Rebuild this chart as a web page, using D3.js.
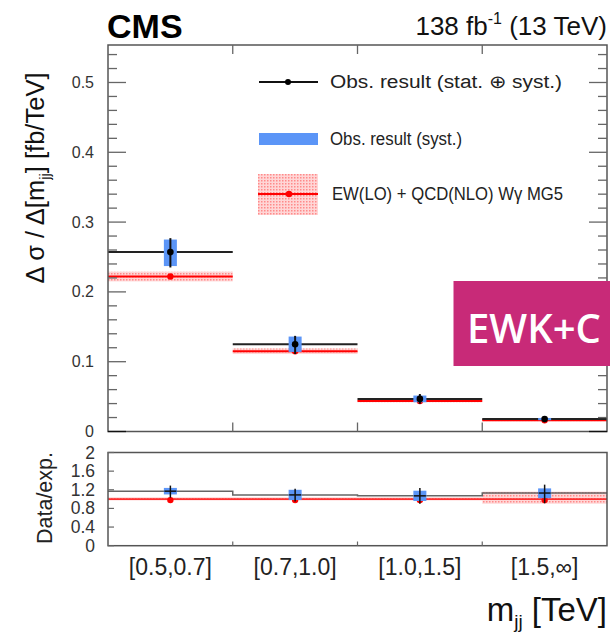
<!DOCTYPE html>
<html><head><meta charset="utf-8">
<script src="https://cdn.jsdelivr.net/npm/d3@7"></script>
<style>body{margin:0;background:#fff;}svg{display:block;}</style>
</head><body>
<script>
// ---- data ----
const bins = ["[0.5,0.7]", "[0.7,1.0]", "[1.0,1.5]", "[1.5,∞]"];
const obs = [0.257, 0.125, 0.0467, 0.0178];
const obsTotLo = [0.235, 0.111, 0.0397, 0.0155];
const obsTotHi = [0.277, 0.137, 0.0537, 0.0201];
const obsSystLo = [0.237, 0.114, 0.0419, 0.0162];
const obsSystHi = [0.275, 0.136, 0.0515, 0.0194];
const pred = [0.222, 0.115, 0.0437, 0.0160];
const predLo = [0.215, 0.111, 0.0420, 0.0147];
const predHi = [0.229, 0.119, 0.0454, 0.0173];
const ratio = [1.17, 1.09, 1.07, 1.13];
const ratioTotLo = [1.03, 0.95, 0.90, 0.91];
const ratioTotHi = [1.29, 1.22, 1.24, 1.31];
const ratioSystLo = [1.10, 0.98, 0.96, 1.02];
const ratioSystHi = [1.24, 1.20, 1.18, 1.23];
const predRatioLo = [0.97, 0.97, 0.97, 0.90];
const predRatioHi = [1.04, 1.04, 1.04, 1.16];
const mainTicks = [0, 0.1, 0.2, 0.3, 0.4, 0.5];
const ratioTicks = [0, 0.4, 0.8, 1.2, 1.6, 2];
const legendLabels = ["Obs. result (stat. \u2295 syst.)", "Obs. result (syst.)", "EW(LO) + QCD(NLO) W\u03b3  MG5"];

const W = 610, H = 632;
const svg = d3.select("body").append("svg").attr("width", W).attr("height", H)
  .style("font-family", "'Liberation Sans', Arial, sans-serif");

const defs = svg.append("defs");
const pat = defs.append("pattern").attr("id", "pinkdots").attr("patternUnits", "userSpaceOnUse")
  .attr("width", 3).attr("height", 3);
pat.append("rect").attr("width", 3).attr("height", 3).attr("fill", "#ffd6d6");
pat.append("rect").attr("width", 1.5).attr("height", 1.5).attr("fill", "#ff8a8a");

const L = 108, R = 607;
const x = d3.scaleBand().domain(bins).range([L, R]).paddingInner(0).paddingOuter(0);
const y = d3.scaleLinear().domain([0, 0.5537]).range([431.5, 45]);
const yr = d3.scaleLinear().domain([0, 2]).range([545.7, 452.5]);
const BLUE = "#5b95f7", FRAME = "#555";

// ---- main panel ----
const gm = svg.append("g");
gm.selectAll(".pband").data(bins).join("rect")
  .attr("x", d => x(d)).attr("width", x.bandwidth())
  .attr("y", (d, i) => y(predHi[i])).attr("height", (d, i) => y(predLo[i]) - y(predHi[i]))
  .attr("fill", "url(#pinkdots)");
gm.selectAll(".pline").data(bins).join("line")
  .attr("x1", d => x(d)).attr("x2", d => x(d) + x.bandwidth())
  .attr("y1", (d, i) => y(pred[i])).attr("y2", (d, i) => y(pred[i]))
  .attr("stroke", "#ff0000").attr("stroke-width", 2);
gm.selectAll(".pdot").data(bins).join("circle")
  .attr("cx", d => x(d) + x.bandwidth() / 2).attr("cy", (d, i) => y(pred[i])).attr("r", 3.2)
  .attr("fill", "#ff0000");
gm.selectAll(".oline").data(bins).join("line")
  .attr("x1", d => x(d)).attr("x2", d => x(d) + x.bandwidth())
  .attr("y1", (d, i) => y(obs[i])).attr("y2", (d, i) => y(obs[i]))
  .attr("stroke", "#222").attr("stroke-width", 2);
gm.selectAll(".sbox").data(bins).join("rect")
  .attr("x", d => x(d) + x.bandwidth() / 2 - 6.5).attr("width", 13)
  .attr("y", (d, i) => y(obsSystHi[i])).attr("height", (d, i) => y(obsSystLo[i]) - y(obsSystHi[i]))
  .attr("fill", BLUE);
gm.selectAll(".ebar").data(bins).join("line")
  .attr("x1", d => x(d) + x.bandwidth() / 2).attr("x2", d => x(d) + x.bandwidth() / 2)
  .attr("y1", (d, i) => y(obsTotHi[i])).attr("y2", (d, i) => y(obsTotLo[i]))
  .attr("stroke", "#111").attr("stroke-width", 2);
gm.selectAll(".odot").data(bins).join("circle")
  .attr("cx", d => x(d) + x.bandwidth() / 2).attr("cy", (d, i) => y(obs[i])).attr("r", 3.3)
  .attr("fill", "#000");

gm.append("rect").attr("x", L).attr("y", 45).attr("width", R - L).attr("height", 431.5 - 45)
  .attr("fill", "none").attr("stroke", FRAME).attr("stroke-width", 1.5);
const minor = d3.range(0, 0.5537, 0.02);
minor.forEach(v => {
  const isMajor = Math.abs(v * 10 - Math.round(v * 10)) < 1e-6;
  const len = isMajor ? 18 : 9;
  gm.append("line").attr("x1", L).attr("x2", L + len).attr("y1", y(v)).attr("y2", y(v))
    .attr("stroke", v === 0 ? "#111" : "#666").attr("stroke-width", 1.3);
  gm.append("line").attr("x1", R).attr("x2", R - len).attr("y1", y(v)).attr("y2", y(v))
    .attr("stroke", v === 0 ? "#111" : "#666").attr("stroke-width", 1.3);
});
bins.slice(1).forEach(b => {
  gm.append("line").attr("x1", x(b)).attr("x2", x(b)).attr("y1", 431.5).attr("y2", 422.5)
    .attr("stroke", "#666").attr("stroke-width", 1.3);
  gm.append("line").attr("x1", x(b)).attr("x2", x(b)).attr("y1", 45).attr("y2", 54)
    .attr("stroke", "#666").attr("stroke-width", 1.3);
});
gm.selectAll(".ytl").data(mainTicks).join("text")
  .attr("x", 94).attr("y", d => y(d) + 5.5).attr("text-anchor", "end")
  .attr("font-size", 16).attr("fill", "#333").text(d => d === 0 ? "0" : d3.format(".1f")(d));

// legend
gm.append("line").attr("x1", 259).attr("x2", 318).attr("y1", 82).attr("y2", 82)
  .attr("stroke", "#111").attr("stroke-width", 2);
gm.append("circle").attr("cx", 288).attr("cy", 82).attr("r", 3).attr("fill", "#000");
gm.append("rect").attr("x", 259).attr("y", 133).attr("width", 59).attr("height", 12).attr("fill", BLUE);
gm.append("rect").attr("x", 258).attr("y", 174).attr("width", 60).attr("height", 41).attr("fill", "url(#pinkdots)");
gm.append("line").attr("x1", 258).attr("x2", 318).attr("y1", 194).attr("y2", 194)
  .attr("stroke", "#ff0000").attr("stroke-width", 2);
gm.append("circle").attr("cx", 289).attr("cy", 194).attr("r", 3.2).attr("fill", "#ff0000");
const legW = [232, 132, 231];
[82, 139, 194].forEach((yy, i) => {
  gm.append("text").attr("x", i === 2 ? 332 : 330).attr("y", yy + 6).attr("font-size", 18)
    .attr("textLength", legW[i]).attr("lengthAdjust", "spacingAndGlyphs")
    .attr("fill", "#222").text(legendLabels[i]);
});

// y label main
const yl = svg.append("text").attr("transform", "translate(44,178) rotate(-90)")
  .attr("text-anchor", "middle").attr("font-size", 25.5).attr("fill", "#111");
yl.append("tspan").text("\u0394 \u03c3 / \u0394[m");
yl.append("tspan").attr("font-size", 15).attr("dy", 6).text("jj");
yl.append("tspan").attr("dy", -6).text("] [fb/TeV]");

// CMS and lumi
svg.append("text").attr("x", 107).attr("y", 38).attr("font-size", 34).attr("font-weight", "bold")
  .attr("fill", "#000").text("CMS");
const lumi = svg.append("text").attr("x", 607).attr("y", 35).attr("text-anchor", "end")
  .attr("font-size", 26).attr("fill", "#111");
lumi.append("tspan").text("138 fb");
lumi.append("tspan").attr("font-size", 16).attr("dy", -11).text("-1");
lumi.append("tspan").attr("dy", 11).text(" (13 TeV)");

// ---- ratio panel ----
const gr = svg.append("g");
gr.selectAll(".rband").data(bins).join("rect")
  .attr("x", d => x(d)).attr("width", x.bandwidth())
  .attr("y", (d, i) => yr(predRatioHi[i])).attr("height", (d, i) => yr(predRatioLo[i]) - yr(predRatioHi[i]))
  .attr("fill", "url(#pinkdots)");
gr.append("line").attr("x1", L).attr("x2", R).attr("y1", yr(1)).attr("y2", yr(1))
  .attr("stroke", "#ff3030").attr("stroke-width", 1.6);
const stepPts = [];
bins.forEach((b, i) => { stepPts.push([x(b), yr(ratio[i])]); stepPts.push([x(b) + x.bandwidth(), yr(ratio[i])]); });
gr.append("path").attr("d", d3.line()(stepPts)).attr("fill", "none").attr("stroke", "#666").attr("stroke-width", 1.5);
gr.selectAll(".rdot").data(bins).join("circle")
  .attr("cx", d => x(d) + x.bandwidth() / 2).attr("cy", yr(1) + 1).attr("r", 3.2).attr("fill", "#ff0000");
gr.selectAll(".rbox").data(bins).join("rect")
  .attr("x", d => x(d) + x.bandwidth() / 2 - 6.5).attr("width", 13)
  .attr("y", (d, i) => yr(ratioSystHi[i])).attr("height", (d, i) => yr(ratioSystLo[i]) - yr(ratioSystHi[i]))
  .attr("fill", BLUE);
gr.selectAll(".rbar").data(bins).join("line")
  .attr("x1", d => x(d) + x.bandwidth() / 2).attr("x2", d => x(d) + x.bandwidth() / 2)
  .attr("y1", (d, i) => yr(ratioTotHi[i])).attr("y2", (d, i) => yr(ratioTotLo[i]))
  .attr("stroke", "#111").attr("stroke-width", 1.5);
gr.selectAll(".rhz").data(bins).join("line")
  .attr("x1", d => x(d) + x.bandwidth() / 2 - 6).attr("x2", d => x(d) + x.bandwidth() / 2 + 6)
  .attr("y1", (d, i) => yr(ratio[i])).attr("y2", (d, i) => yr(ratio[i]))
  .attr("stroke", "#111").attr("stroke-width", 1.5);

gr.append("rect").attr("x", L).attr("y", 452.5).attr("width", R - L).attr("height", 545.7 - 452.5)
  .attr("fill", "none").attr("stroke", FRAME).attr("stroke-width", 1.5);
gr.selectAll(".rtick").data(ratioTicks).join("line")
  .attr("x1", L).attr("x2", L + 6).attr("y1", d => yr(d)).attr("y2", d => yr(d))
  .attr("stroke", "#666").attr("stroke-width", 1.2);
bins.slice(1).forEach(b => {
  gr.append("line").attr("x1", x(b)).attr("x2", x(b)).attr("y1", 545.7).attr("y2", 541.5)
    .attr("stroke", "#666").attr("stroke-width", 1.2);
});
gr.selectAll(".rtl").data(ratioTicks).join("text")
  .attr("x", 95).attr("y", d => yr(d) + 6).attr("text-anchor", "end")
  .attr("font-size", 17.5).attr("fill", "#333").text(d => d3.format("")(d));

svg.append("text").attr("transform", "translate(52,498) rotate(-90)").attr("text-anchor", "middle")
  .attr("font-size", 21.5).attr("fill", "#222").text("Data/exp.");

gr.selectAll(".xtl").data(bins).join("text")
  .attr("x", d => x(d) + x.bandwidth() / 2).attr("y", 575).attr("text-anchor", "middle")
  .attr("font-size", 23).attr("fill", "#222").text(d => d);

const xl = svg.append("text").attr("x", 607).attr("y", 621).attr("text-anchor", "end")
  .attr("font-size", 33).attr("fill", "#111");
xl.append("tspan").text("m");
xl.append("tspan").attr("font-size", 19).attr("dy", 7).text("jj");
xl.append("tspan").attr("dy", -7).text(" [TeV]");

// ---- overlay badge ----
svg.append("rect").attr("x", 453.5).attr("y", 281).attr("width", 610 - 453.5).attr("height", 85).attr("fill", "#c82a78");
svg.append("text").attr("x", 467).attr("y", 343).attr("font-size", 40).attr("font-weight", 600)
  .attr("font-family", "'Open Sans', 'Noto Sans', sans-serif").attr("fill", "#fff")
  .text("EWK+C");
</script>
</body></html>
